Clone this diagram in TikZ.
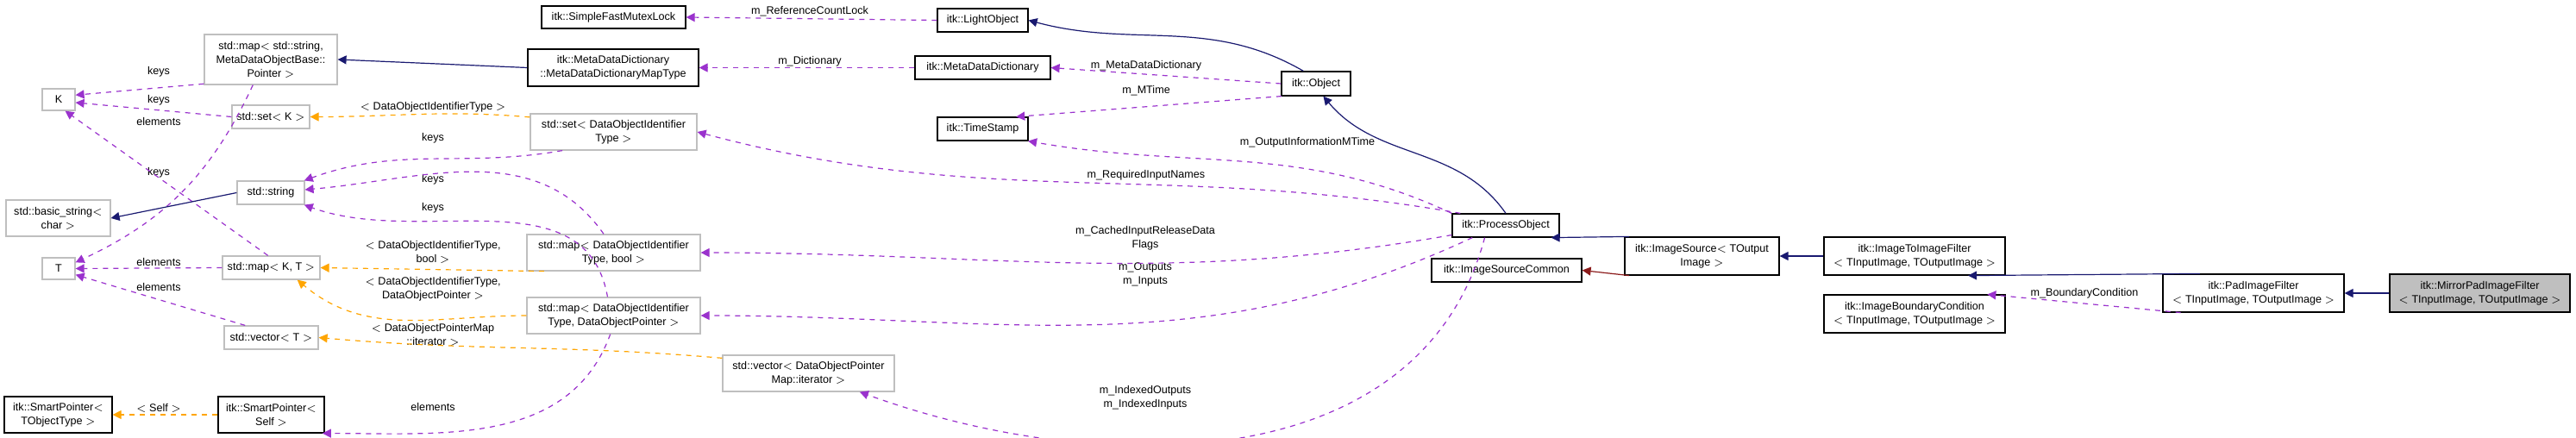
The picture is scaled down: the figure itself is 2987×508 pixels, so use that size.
\documentclass[tikz,border=0pt]{standalone}
\usepackage{fontspec}
\setmainfont{Liberation Sans}
\usepackage{tikz}
\usetikzlibrary{arrows.meta}
\definecolor{usecol}{HTML}{9A32CD}
\definecolor{tplcol}{HTML}{FFA500}
\definecolor{inhcol}{HTML}{191970}
\definecolor{prvcol}{HTML}{8B1A1A}
\definecolor{tplbox}{HTML}{BFBFBF}

\begin{document}
\begin{tikzpicture}[x=0.5pt, y=-0.5pt,
    every node/.style={font=\fontsize{6.3}{8}\selectfont, inner sep=0pt},
    cls/.style={draw=black, line width=0.6pt, align=center},
    tpl/.style={draw=tplbox, line width=0.6pt, align=center},
    lbl/.style={align=center},
    use/.style={draw=usecol, dashed, line width=0.6pt, -{Triangle[length=5pt,width=5pt]}},
    inst/.style={draw=tplcol, dashed, line width=0.6pt, -{Triangle[length=5pt,width=5pt]}},
    inh/.style={draw=inhcol, line width=0.6pt, -{Triangle[length=5pt,width=5pt]}},
    prv/.style={draw=prvcol, line width=0.6pt, -{Triangle[length=5pt,width=5pt]}}]
    \useasboundingbox (0,0) rectangle (2987,508);

    \node[cls, minimum width=83.5pt, minimum height=13pt](mutex)     at (711.5,20)  {itk::SimpleFastMutexLock};
    \node[tpl, minimum width=77pt, minimum height=29pt](strmap)      at (314,69)    {std::map$<$ std::string,\\MetaDataObjectBase::\\Pointer $>$};
    \node[cls, minimum width=99pt, minimum height=21.5pt](dictmap)   at (711,78.5)  {itk::MetaDataDictionary\\::MetaDataDictionaryMapType};
    \node[tpl, minimum width=19pt, minimum height=12.5pt](K)         at (68,115.5)  {K};
    \node[tpl, minimum width=45pt, minimum height=13.5pt](setK)      at (314,135.5) {std::set$<$ K $>$};
    \node[tpl, minimum width=96.5pt, minimum height=21pt](setDOIT)   at (711.5,153) {std::set$<$ DataObjectIdentifier\\Type $>$};
    \node[tpl, minimum width=39pt, minimum height=13.5pt](string)    at (314,223.5) {std::string};
    \node[tpl, minimum width=60.5pt, minimum height=21pt](basic)     at (67.5,253)  {std::basic\_string$<$\\char $>$};
    \node[tpl, minimum width=19pt, minimum height=12.5pt](T)         at (68,311.5)  {T};
    \node[tpl, minimum width=56.5pt, minimum height=13.5pt](mapKT)   at (314.5,310.5) {std::map$<$ K, T $>$};
    \node[tpl, minimum width=100.5pt, minimum height=21pt](mapBool)  at (711.5,293) {std::map$<$ DataObjectIdentifier\\Type, bool $>$};
    \node[tpl, minimum width=100.5pt, minimum height=21pt](mapDOP)   at (711.5,366) {std::map$<$ DataObjectIdentifier\\Type, DataObjectPointer $>$};
    \node[tpl, minimum width=54.5pt, minimum height=13.5pt](vecT)    at (314.5,391.5) {std::vector$<$ T $>$};
    \node[cls, minimum width=62.5pt, minimum height=21pt](spObj)     at (67.5,481)  {itk::SmartPointer$<$\\TObjectType $>$};
    \node[cls, minimum width=61.5pt, minimum height=21pt](spSelf)    at (314.5,481) {itk::SmartPointer$<$\\Self $>$};
    \node[cls, minimum width=52.5pt, minimum height=13.5pt](light)   at (1139.5,23.5) {itk::LightObject};
    \node[cls, minimum width=78.5pt, minimum height=13.5pt](dict)    at (1139.5,78.5) {itk::MetaDataDictionary};
    \node[cls, minimum width=40pt, minimum height=14pt](object)      at (1526,97)   {itk::Object};
    \node[cls, minimum width=52.5pt, minimum height=13.5pt](stamp)   at (1139.5,149.5) {itk::TimeStamp};
    \node[tpl, minimum width=99.5pt, minimum height=21pt](vecIt)     at (937.5,433) {std::vector$<$ DataObjectPointer\\Map::iterator $>$};
    \node[cls, minimum width=62pt, minimum height=13.5pt](process)   at (1746,261.5) {itk::ProcessObject};
    \node[cls, minimum width=87pt, minimum height=13.5pt](common)    at (1747,313.5) {itk::ImageSourceCommon};
    \node[cls, minimum width=89.5pt, minimum height=22pt](source)    at (1973.5,297) {itk::ImageSource$<$ TOutput\\Image $>$};
    \node[cls, minimum width=105pt, minimum height=22pt](i2i)        at (2220,297)  {itk::ImageToImageFilter\\$<$ TInputImage, TOutputImage $>$};
    \node[cls, minimum width=105pt, minimum height=22pt](bound)      at (2220,364)  {itk::ImageBoundaryCondition\\$<$ TInputImage, TOutputImage $>$};
    \node[cls, minimum width=105pt, minimum height=22pt](pad)        at (2613,340)  {itk::PadImageFilter\\$<$ TInputImage, TOutputImage $>$};
    \node[cls, fill=tplbox, minimum width=104.5pt, minimum height=22pt](mirror) at (2875.5,340) {itk::MirrorPadImageFilter\\$<$ TInputImage, TOutputImage $>$};

    % edge labels
    \node[lbl](l1)  at (184,83)    {keys};
    \node[lbl](l2)  at (184,116)   {keys};
    \node[lbl](l3)  at (184,141)   {elements};
    \node[lbl](l4)  at (184,200)   {keys};
    \node[lbl](l5)  at (184,304)   {elements};
    \node[lbl](l6)  at (184,333)   {elements};
    \node[lbl](l7)  at (184,473)   {$<$ Self $>$};
    \node[lbl](l8)  at (502,124)   {$<$ DataObjectIdentifierType $>$};
    \node[lbl](l9)  at (502,160)   {keys};
    \node[lbl](l10) at (502,208)   {keys};
    \node[lbl](l11) at (502,241)   {keys};
    \node[lbl](l12) at (502,292)   {$<$ DataObjectIdentifierType,\\bool $>$};
    \node[lbl](l13) at (502,335)   {$<$ DataObjectIdentifierType,\\DataObjectPointer $>$};
    \node[lbl](l14) at (502,388)   {$<$ DataObjectPointerMap\\::iterator $>$};
    \node[lbl](l15) at (502,472)   {elements};
    \node[lbl](l16) at (939,13)    {m\_ReferenceCountLock};
    \node[lbl](l17) at (939,71)    {m\_Dictionary};
    \node[lbl](l18) at (1329,76)   {m\_MetaDataDictionary};
    \node[lbl](l19) at (1329,105)  {m\_MTime};
    \node[lbl](l20) at (1516,165)  {m\_OutputInformationMTime};
    \node[lbl](l21) at (1329,203)  {m\_RequiredInputNames};
    \node[lbl](l22) at (1328,276)  {m\_CachedInputReleaseData\\Flags};
    \node[lbl](l23) at (1328,318)  {m\_Outputs\\m\_Inputs};
    \node[lbl](l24) at (1328,461)  {m\_IndexedOutputs\\m\_IndexedInputs};
    \node[lbl](l25) at (2417,340)  {m\_BoundaryCondition};

    % connectors
    \draw[use] (light.west) -- (mutex.east);
    \draw[inh] (object.135) to[out=150,in=-15] (light.east);
    \draw[use] (dict.west) -- (dictmap.east);
    \draw[use] (object.west) -- (dict.east);
    \draw[use] (object.-160) -- (stamp.20);
    \draw[use] (process.north west) to[out=155,in=-10] (stamp.-15);
    \draw[inh] (process.north) to[out=125,in=-50] (object.-60);
    \draw[use] (process.165) to[out=170,in=-15] (setDOIT.east);
    \draw[use] (process.190) to[out=190,in=0] (mapBool.east);
    \draw[use] (process.200) to[out=205,in=0] (mapDOP.east);
    \draw[use] (process.-150) to[out=-105,in=-20] (vecIt.-20);
    \draw[inh] (dictmap.west) -- (strmap.east);
    \draw[use] (strmap.200) -- (K.15);
    \draw[use] (strmap.-125) to[out=-115,in=25] (T.20);
    \draw[use] (setK.west) -- (K.-10);
    \draw[use] (mapKT.105) -- (K.-60);
    \draw[use] (mapKT.west) -- (T.east);
    \draw[use] (vecT.155) -- (T.-20);
    \draw[inst] (setDOIT.170) to[out=175,in=0] (setK.east);
    \draw[use] (setDOIT.-160) to[out=190,in=20] (string.20);
    \draw[use] (mapBool.118) to[out=125,in=5] (string.5);
    \draw[use] (mapDOP.108) to[out=100,in=-20] (string.-20);
    \draw[inh] (string.west) -- (basic.east);
    \draw[inst] (mapBool.-165) -- (mapKT.east);
    \draw[inst] (mapDOP.west) to[out=180,in=-40] (mapKT.-25);
    \draw[inst] (vecIt.170) to[out=175,in=-5] (vecT.east);
    \draw[use] (mapDOP.-100) to[out=-110,in=0] (spSelf.-20);
    \draw[inst] (spSelf.west) -- (spObj.east);
    \draw[inh] (source.165) -- (process.-15);
    \draw[prv] (source.-165) -- (common.east);
    \draw[inh] (i2i.west) -- (source.east);
    \draw[inh] (pad.160) -- (i2i.-20);
    \draw[inh] (mirror.west) -- (pad.east);
    \draw[use] (pad.-165) -- (bound.15);
\end{tikzpicture}
\end{document}
